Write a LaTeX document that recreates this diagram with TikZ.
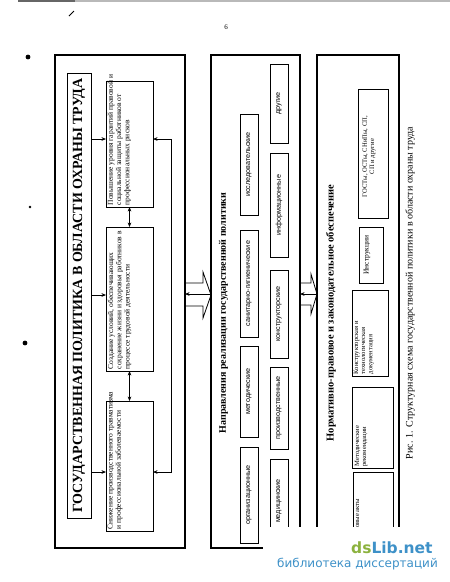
\documentclass[tikz,border=0pt]{standalone}
\usepackage{fontspec}
\setmainfont{Liberation Serif}
\newfontfamily\boxsans{Liberation Sans}
\newfontfamily\wmfont{DejaVu Sans}
\usetikzlibrary{arrows.meta,calc}
\definecolor{dsgreen}{RGB}{140,178,62}
\definecolor{dsblue}{RGB}{62,145,200}
\newcommand\mkbox[6]{\node[#6, minimum width={#4-#2}, minimum height={#5-#3}, inner sep=0pt, outer sep=0pt, anchor=north west] (#1) at (#2,-#3) {};}
\begin{document}
\begin{tikzpicture}[x=1pt,y=1pt,
  panelbox/.style={draw, line width=1.5pt},
  titlebox/.style={draw, line width=0.8pt},
  inbox/.style={draw, line width=0.6pt},
  conn/.style={line width=0.6pt, -{Stealth[length=4.5pt,width=3.6pt]}},
  conntwo/.style={line width=0.6pt, {Stealth[length=4.5pt,width=3.6pt]}-{Stealth[length=4.5pt,width=3.6pt]}},
  hollow/.style={line width=0.8pt},
  rtext/.style={rotate=90, inner sep=1.5pt},
  p1font/.style={font=\fontsize{7.5}{8.3}\selectfont},
  p2font/.style={font=\boxsans\fontsize{7.2}{7.2}\selectfont},
  p3font/.style={font=\fontsize{6.6}{7.2}\selectfont}]
\useasboundingbox (0,0) rectangle (450,-582);
% scan artefacts
\draw[gray!55, line width=1.5pt] (18,-0.75) -- (450,-0.75);
\draw[gray!80!black, line width=1.5pt] (18,-0.75) -- (75,-0.75);
\draw[line width=1pt] (69,-16) -- (74,-11);
\fill (28,-57) circle (2.4);
\fill (30,-207) circle (1.3);
\fill (25,-343) circle (2.4);
\node[font=\fontsize{7}{7}\selectfont] (pgnum) at (226,-27) {6};

% ---------- panel 1
\mkbox{p1}{55}{55}{185}{548}{panelbox}
\mkbox{t1}{67}{73}{91}{518}{titlebox}
\mkbox{bA}{106}{81}{153}{207}{inbox}
\mkbox{bB}{106}{227}{153}{371}{inbox}
\mkbox{bC}{106}{401}{153}{531}{inbox}
\node[rtext, font=\bfseries\fontsize{14}{14}\selectfont] (t1txt) at (t1.center) {ГОСУДАРСТВЕННАЯ ПОЛИТИКА В ОБЛАСТИ ОХРАНЫ ТРУДА};
\node[rtext, p1font, anchor=north west, align=left] (bAtxt) at (bA.south west) {Повышение уровня гарантий правовой и\\социальной защиты работников от\\профессиональных рисков};
\node[rtext, p1font, anchor=north west, align=left] (bBtxt) at (bB.south west) {Создание условий, обеспечивающих\\сохранение жизни и здоровья работников в\\процессе трудовой деятельности};
\node[rtext, p1font, anchor=north west, align=left] (bCtxt) at (bC.south west) {Снижение производственного травматизма\\и профессиональной заболеваемости};
\draw[conn] (t1.east |- 0,-139) -- (bA.west |- 0,-139);
\draw[conn] (t1.east |- 0,-295) -- (bB.west |- 0,-295);
\draw[conn] (t1.east |- 0,-472) -- (bC.west |- 0,-472);
\draw[conntwo] (bA.south) -- (bB.north);
\draw[conntwo] (bB.south) -- (bC.north);
\coordinate (fbtop) at (171,-139);
\coordinate (fbbot) at (171,-472);
\draw[conntwo] (bA.east |- fbtop) -- (fbtop) -- (fbbot) -- (bC.east |- fbbot);

% ---------- panel 2
\mkbox{p2}{211}{55}{300}{548}{panelbox}
\mkbox{n1}{240}{114}{258}{215}{inbox}
\mkbox{n2}{240}{230}{258}{337}{inbox}
\mkbox{n3}{240}{346}{258}{437}{inbox}
\mkbox{n4}{240}{447}{258}{543}{inbox}
\mkbox{n5}{270}{64}{288}{143}{inbox}
\mkbox{n6}{270}{153}{288}{257}{inbox}
\mkbox{n7}{270}{270}{288}{358}{inbox}
\mkbox{n8}{270}{367}{288}{449}{inbox}
\mkbox{n9}{270}{459}{288}{543}{inbox}
\node[rtext, font=\bfseries\fontsize{10}{10}\selectfont] (p2t) at (223.5,-313) {Направления реализации государственной политики};
\node[rtext, p2font] (n1t) at (n1.center) {исследовательские};
\node[rtext, p2font] (n2t) at (n2.center) {санитарно-гигиенические};
\node[rtext, p2font] (n3t) at (n3.center) {методические};
\node[rtext, p2font] (n4t) at (n4.center) {организационные};
\node[rtext, p2font] (n5t) at (n5.center) {другие};
\node[rtext, p2font] (n6t) at (n6.center) {информационные};
\node[rtext, p2font] (n7t) at (n7.center) {конструкторские};
\node[rtext, p2font] (n8t) at (n8.center) {производственные};
\node[rtext, p2font] (n9t) at (n9.center) {медицинские};

% ---------- panel 3
\mkbox{p3}{317}{55}{399}{548}{panelbox}
\mkbox{g3}{358}{89}{388}{218}{inbox}
\mkbox{i3}{359}{227}{383}{283}{inbox}
\mkbox{k3}{352}{290}{388}{376}{inbox}
\mkbox{m3}{352}{387}{393}{468}{inbox}
\mkbox{a3}{353}{472}{393}{545}{inbox}
\node[rtext, font=\bfseries\fontsize{10.5}{10.5}\selectfont] (p3t) at (331,-313) {Нормативно-правовое и законодательное обеспечение};
\node[rtext, p3font, align=center] (g3t) at ($(g3.center)+(-4,-3)$) {ГОСТы, ОСТы, СНиПы, СП,\\СП и другие};
\node[rtext, font=\fontsize{7.5}{8}\selectfont] (i3t) at ($(i3.center)+(-4,0)$) {Инструкции};
\node[rtext, p3font, anchor=north west, align=left] (k3t) at (k3.south west) {Конструкторская и\\технологическая\\документация};
\node[rtext, p3font, anchor=north west, align=left] (m3t) at ($(m3.south west)+(1,0)$) {Методические\\рекомендации};
\node[rtext, p3font, anchor=north east, align=left] (a3t) at (a3.west |- 0,-497) {Правовые акты};

% ---------- hollow arrows between panels
\draw[hollow] (p1.east |- 0,-283) -- (203,-283) -- (203,-272) -- (p2.west |- 0,-295) -- (203,-318) -- (203,-306) -- (p1.east |- 0,-306);
\draw[conn] (p2.west |- 0,-294) -- (p1.east |- 0,-294);
\draw[hollow] (p2.east |- 0,-283) -- (311,-283) -- (311,-274) -- (p3.west |- 0,-294) -- (311,-314) -- (311,-305) -- (p2.east |- 0,-305);
\draw[conn] (p3.west |- 0,-294) -- (p2.east |- 0,-294);

% ---------- caption
\node[rtext, font=\fontsize{10}{10}\selectfont] (cap) at (410,-293) {Рис. 1. Структурная схема государственной политики в области охраны труда};

% ---------- watermark
\fill[white] (263,-527) rectangle (450,-582);
\node[anchor=base west, inner sep=0pt, font=\wmfont\bfseries\fontsize{15.5}{15.5}\selectfont] (wm1) at (351,-553) {\textcolor{dsgreen}{ds}\textcolor{dsblue}{Lib.net}};
\node[anchor=base east, inner sep=0pt, text=dsblue, font=\wmfont\fontsize{12}{12}\selectfont] (wm2) at (438,-567) {библиотека диссертаций};
\end{tikzpicture}
\end{document}
